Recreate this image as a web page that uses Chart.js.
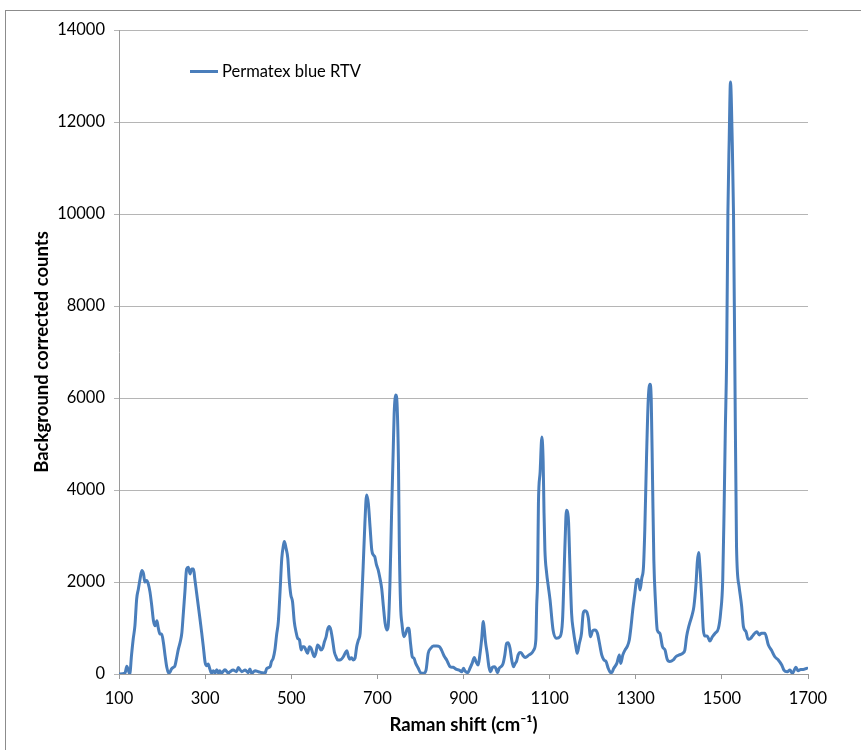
<!DOCTYPE html>
<html>
<head>
<meta charset="utf-8">
<title>Permatex blue RTV</title>
<script src="https://cdn.jsdelivr.net/npm/chart.js@4.4.1/dist/chart.umd.min.js"></script>
<style>
  html, body { margin:0; padding:0; background:#fff; overflow:hidden; }
  #wrap { position:relative; width:861px; height:750px; }
  #frame { position:absolute; left:5px; top:10px; width:900px; height:800px; border-left:1px solid #8c8c8c; border-top:1px solid #8c8c8c; }
  #chart { position:absolute; left:0; top:0; }
  #legend { position:absolute; left:190px; top:61px; font:16.5px Lato, "Liberation Sans", sans-serif; color:#000; white-space:nowrap; }
  #legend .swatch { display:inline-block; width:28px; height:3px; background:#4a7ebb; vertical-align:middle; margin-right:4px; position:relative; top:-1px; }
</style>
</head>
<body>
<div id="wrap">
  <div id="frame"></div>
  <canvas id="chart" width="861" height="750"></canvas>
  <div id="legend"><span class="swatch"></span>Permatex blue RTV</div>
</div>
<script>
// spectrum
var shift = [100,102,114,118,122,125,129,133,137,141,145,149,153,157,160,164,168,172,176,180,
  184,188,191,195,199,203,207,211,215,218,222,226,230,234,238,242,246,249,253,257,
  261,265,269,273,276,280,284,288,292,296,300,304,307,311,315,319,323,327,331,334,
  338,346,354,358,365,373,377,385,393,400,404,408,416,424,431,439,443,451,454,458,
  462,466,470,474,478,482,484,488,492,495,499,503,507,511,515,519,523,526,530,534,
  538,542,546,550,553,557,561,565,569,573,577,581,584,588,592,596,600,604,608,613,
  621,625,629,633,636,640,644,648,652,656,660,663,667,671,675,679,683,687,691,694,
  698,702,706,710,714,718,722,725,729,733,737,739,743,746,749,751,754,757,762,766,
  770,773,777,781,785,789,795,800,807,813,818,824,830,838,844,849,855,861,869,876,
  884,890,896,900,903,910,915,920,925,929,934,938,942,946,948,951,955,959,963,967,
  972,975,979,983,989,992,996,1000,1004,1008,1012,1016,1020,1023,1027,1031,1035,1039,1043,1047,
  1052,1058,1063,1068,1070,1072,1074,1078,1082,1085,1087,1089,1093,1097,1101,1108,1116,1124,1130,1136,
  1139,1142,1144,1147,1151,1155,1161,1164,1169,1174,1178,1182,1186,1190,1195,1200,1205,1211,1215,1221,
  1226,1231,1236,1240,1244,1249,1256,1262,1265,1270,1275,1280,1285,1289,1293,1298,1302,1306,1310,1314,
  1318,1321,1325,1329,1333,1336,1339,1342,1346,1350,1356,1362,1368,1373,1379,1387,1393,1401,1409,1414,
  1418,1424,1431,1435,1440,1443,1446,1449,1453,1457,1461,1466,1472,1478,1484,1492,1497,1502,1505,1508,
  1511,1514,1517,1520,1524,1527,1530,1534,1540,1546,1550,1556,1561,1567,1573,1581,1587,1592,1600,1608,
  1615,1623,1631,1639,1644,1652,1658,1664,1672,1677,1683,1689,1698,1700];

var counts = [0,0,20,170,70,0,400,760,1050,1630,1850,2070,2250,2175,2000,2030,1960,1780,1490,1160,
  1050,1160,1015,870,870,690,400,145,20,35,110,145,180,360,545,690,900,1270,1780,2285,
  2320,2175,2285,2285,2070,1780,1490,1200,900,580,250,180,220,110,20,70,20,95,20,70,
  20,95,20,50,85,50,140,50,85,30,110,15,70,50,30,15,120,160,270,340,
  520,850,1140,1790,2515,2805,2880,2730,2515,2080,1720,1570,1140,920,775,740,520,595,595,520,
  450,595,560,450,375,450,630,595,520,560,700,810,955,1030,955,740,485,375,305,305,
  375,450,505,375,320,355,305,340,595,740,885,1465,2335,3275,3890,3710,3200,2695,2585,2550,
  2370,2260,2080,1860,1465,1100,955,1030,1900,3490,4940,5665,6065,5810,4580,2770,1465,1100,810,885,
  995,995,665,375,340,230,125,30,15,85,450,560,610,610,595,520,390,305,160,145,
  100,85,50,125,70,30,125,230,360,270,195,415,740,1140,995,705,450,160,50,145,
  160,125,30,125,175,230,415,665,680,560,305,160,230,270,415,465,450,390,360,375,
  415,450,520,740,1500,2045,3700,4400,5150,4600,3500,2700,2200,1900,1610,955,775,810,1175,2910,
  3560,3500,3300,2400,1320,955,595,450,665,885,1320,1375,1355,1210,810,940,955,885,705,415,
  305,270,125,50,30,125,230,415,230,415,520,595,740,1030,1390,1755,2045,2060,1825,2080,
  2335,3130,4700,5955,6300,5955,4220,2480,1535,955,885,595,520,320,270,305,375,415,450,520,
  810,1065,1285,1465,1970,2440,2640,2335,1680,955,825,825,715,810,885,995,1320,2045,3490,5305,
  6825,10020,11610,12870,11610,10020,6825,2770,1900,1465,1030,920,755,775,850,920,850,885,885,630,
  520,375,305,195,85,50,85,15,145,70,100,100,125,110];

var xTicks = { min:100, max:1700, step:200 };
var yTicks = { min:0, max:14000, step:2000 };

var gridColor = '#b5b5b5';
var axisColor = '#9a9a9a';
var tickFont = { family:'Lato, "Liberation Sans", sans-serif', size:16.5 };
var titleFont = { family:'Lato, "Liberation Sans", sans-serif', size:18.5, weight:'bold' };

var points = [];
for (var i = 0; i < shift.length; i++) points.push({ x: shift[i], y: counts[i] });

function plain(v) { return String(v); }

var ctx = document.getElementById('chart').getContext('2d');
new Chart(ctx, {
  type: 'line',
  data: {
    datasets: [{
      label: 'Permatex blue RTV',
      data: points,
      borderColor: '#4a7ebb',
      borderWidth: 3,
      pointRadius: 0,
      cubicInterpolationMode: 'monotone',
      fill: false
    }]
  },
  options: {
    responsive: false,
    animation: false,
    layout: { padding: { top: 30, right: 53, left: 0, bottom: 0 } },
    plugins: { legend: { display: false }, tooltip: { enabled: false } },
    scales: {
      x: {
        type: 'linear',
        min: xTicks.min, max: xTicks.max,
        ticks: { stepSize: xTicks.step, color: '#000', font: tickFont, padding: 10, maxRotation: 0, callback: plain },
        grid: { drawOnChartArea: false, drawTicks: true, tickLength: 5, color: axisColor },
        border: { color: axisColor },
        title: { display: true, text: 'Raman shift (cm\u207B\u00B9)', color: '#000', font: titleFont, padding: { top: 0, bottom: 14 } },
        afterFit: function(s) { s.height = 76; }
      },
      y: {
        min: yTicks.min, max: yTicks.max,
        ticks: { stepSize: yTicks.step, color: '#000', font: tickFont, padding: 9, callback: plain },
        grid: { color: gridColor, tickLength: 5 },
        border: { color: axisColor },
        title: { display: true, text: 'Background corrected counts', color: '#000', font: titleFont, padding: { top: 31, bottom: 0 } },
        afterFit: function(s) { s.width = 119; }
      }
    }
  }
});
</script>
</body>
</html>
